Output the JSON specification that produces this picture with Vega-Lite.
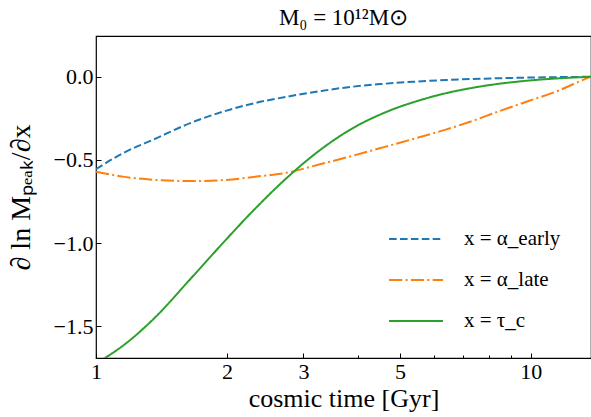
{
  "$schema": "https://vega.github.io/schema/vega-lite/v6.json",
  "width": 495,
  "height": 322,
  "autosize": {"type": "none"},
  "padding": {"left": 96, "top": 36, "right": 0, "bottom": 59},
  "background": "white",
  "title": {"text": "M₀ = 10¹²M⊙", "font": "Liberation Serif", "fontSize": 23, "fontWeight": "normal", "color": "#000", "offset": 6},
  "config": {
    "view": {"stroke": "#000", "strokeWidth": 1.2},
    "font": "Liberation Serif",
    "legend": {
      "orient": "none",
      "legendX": 292,
      "legendY": 193,
      "symbolType": "stroke",
      "symbolSize": 2900,
      "symbolStrokeWidth": 2,
      "labelFont": "Liberation Serif",
      "labelFontSize": 21,
      "labelColor": "#000",
      "labelOffset": 20,
      "rowPadding": 20,
      "clipHeight": 20,
      "padding": 0
    }
  },
  "data": {"values": [
    {"t": 1, "v": -0.555, "s": "x = α_early"},
    {"t": 1.152, "v": -0.46, "s": "x = α_early"},
    {"t": 1.375, "v": -0.37, "s": "x = α_early"},
    {"t": 1.641, "v": -0.28, "s": "x = α_early"},
    {"t": 1.958, "v": -0.21, "s": "x = α_early"},
    {"t": 2.338, "v": -0.156, "s": "x = α_early"},
    {"t": 2.788, "v": -0.117, "s": "x = α_early"},
    {"t": 3.3, "v": -0.085, "s": "x = α_early"},
    {"t": 3.765, "v": -0.064, "s": "x = α_early"},
    {"t": 4.5, "v": -0.044, "s": "x = α_early"},
    {"t": 5.36, "v": -0.03, "s": "x = α_early"},
    {"t": 6.4, "v": -0.019, "s": "x = α_early"},
    {"t": 7.63, "v": -0.012, "s": "x = α_early"},
    {"t": 9.77, "v": -0.005, "s": "x = α_early"},
    {"t": 11.7, "v": -0.002, "s": "x = α_early"},
    {"t": 13.75, "v": 0, "s": "x = α_early"},
    {"t": 1, "v": -0.57, "s": "x = α_late"},
    {"t": 1.152, "v": -0.6, "s": "x = α_late"},
    {"t": 1.375, "v": -0.62, "s": "x = α_late"},
    {"t": 1.641, "v": -0.627, "s": "x = α_late"},
    {"t": 1.958, "v": -0.621, "s": "x = α_late"},
    {"t": 2.338, "v": -0.6, "s": "x = α_late"},
    {"t": 2.788, "v": -0.573, "s": "x = α_late"},
    {"t": 3.155, "v": -0.537, "s": "x = α_late"},
    {"t": 3.765, "v": -0.485, "s": "x = α_late"},
    {"t": 4.49, "v": -0.43, "s": "x = α_late"},
    {"t": 5.36, "v": -0.374, "s": "x = α_late"},
    {"t": 6.4, "v": -0.316, "s": "x = α_late"},
    {"t": 7.63, "v": -0.25, "s": "x = α_late"},
    {"t": 8.19, "v": -0.22, "s": "x = α_late"},
    {"t": 9.77, "v": -0.15, "s": "x = α_late"},
    {"t": 11.66, "v": -0.08, "s": "x = α_late"},
    {"t": 13.43, "v": -0.01, "s": "x = α_late"},
    {"t": 13.75, "v": 0, "s": "x = α_late"},
    {"t": 1, "v": -1.723, "s": "x = τ_c"},
    {"t": 1.056, "v": -1.685, "s": "x = τ_c"},
    {"t": 1.152, "v": -1.617, "s": "x = τ_c"},
    {"t": 1.375, "v": -1.44, "s": "x = τ_c"},
    {"t": 1.641, "v": -1.221, "s": "x = τ_c"},
    {"t": 1.924, "v": -1.021, "s": "x = τ_c"},
    {"t": 2.296, "v": -0.806, "s": "x = τ_c"},
    {"t": 2.74, "v": -0.61, "s": "x = τ_c"},
    {"t": 3.269, "v": -0.442, "s": "x = τ_c"},
    {"t": 3.9, "v": -0.308, "s": "x = τ_c"},
    {"t": 4.655, "v": -0.211, "s": "x = τ_c"},
    {"t": 5.554, "v": -0.141, "s": "x = τ_c"},
    {"t": 6.4, "v": -0.098, "s": "x = τ_c"},
    {"t": 7.63, "v": -0.059, "s": "x = τ_c"},
    {"t": 9.77, "v": -0.024, "s": "x = τ_c"},
    {"t": 11.66, "v": -0.009, "s": "x = τ_c"},
    {"t": 13.75, "v": 0, "s": "x = τ_c"}
  ]},
  "mark": {"type": "line", "strokeWidth": 2, "interpolate": "monotone", "clip": true},
  "encoding": {
    "x": {
      "field": "t", "type": "quantitative",
      "scale": {"type": "log", "domain": [1, 13.75], "nice": false},
      "axis": {
        "title": "cosmic time [Gyr]",
        "values": [1, 2, 3, 4, 5, 6, 7, 8, 9, 10],
        "format": "~g",
        "labelExpr": "indexof([1,2,3,5,10], datum.value) >= 0 ? datum.label : ''",
        "tickSize": {"condition": {"test": "indexof([1,2,3,5,10], datum.value) >= 0", "value": -5}, "value": -3},
        "tickColor": "#000",
        "tickWidth": 1,
        "domain": false,
        "grid": false,
        "labelFont": "Liberation Serif",
        "labelFontSize": 22,
        "labelColor": "#000",
        "labelPadding": 8,
        "labelFlush": false,
        "titleFont": "Liberation Serif",
        "titleFontSize": 26,
        "titleFontWeight": "normal",
        "titleColor": "#000",
        "titlePadding": 3
      }
    },
    "y": {
      "field": "v", "type": "quantitative",
      "scale": {"domain": [-1.69, 0.245], "nice": false, "zero": false},
      "axis": {
        "title": "∂ ln Mₚₑₐₖ/∂x",
        "values": [0, -0.5, -1, -1.5],
        "format": ".1f",
        "labelExpr": "replace(datum.label, '-', '−\u2009')",
        "tickSize": -5,
        "tickColor": "#000",
        "tickWidth": 1,
        "domain": false,
        "grid": false,
        "labelFont": "Liberation Serif",
        "labelFontSize": 22,
        "labelColor": "#000",
        "labelPadding": 8,
        "titleFont": "Liberation Serif",
        "titleFontSize": 28,
        "titleFontWeight": "normal",
        "titleColor": "#000",
        "titlePadding": 18
      }
    },
    "color": {
      "field": "s", "type": "nominal",
      "scale": {"domain": ["x = α_early", "x = α_late", "x = τ_c"], "range": ["#1f77b4", "#ff7f0e", "#2ca02c"]},
      "legend": {"title": null}
    },
    "strokeDash": {
      "field": "s", "type": "nominal",
      "scale": {"domain": ["x = α_early", "x = α_late", "x = τ_c"], "range": [[7.6, 3.3], [13.2, 3.3, 2, 3.3], [1, 0]]},
      "legend": {"title": null}
    }
  }
}
